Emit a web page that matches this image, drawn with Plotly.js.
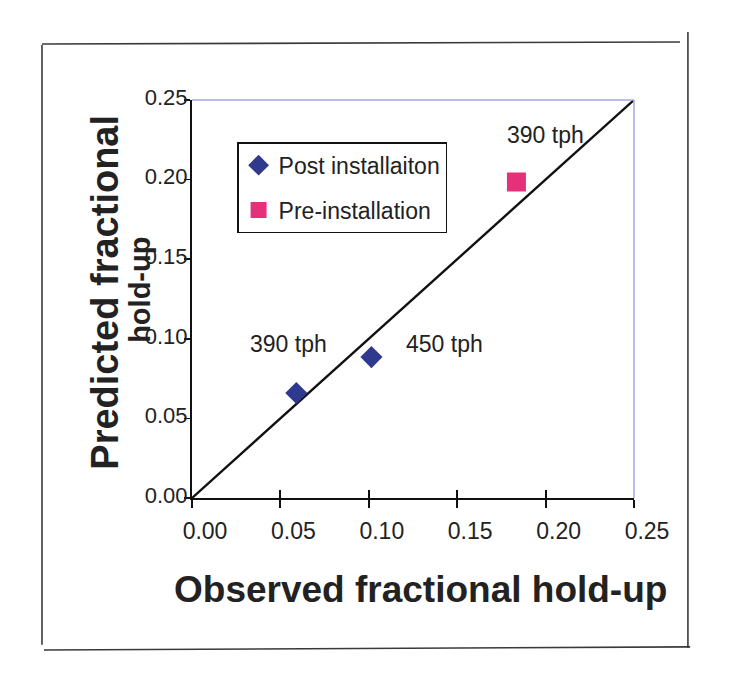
<!DOCTYPE html>
<html>
<head>
<meta charset="utf-8">
<script src="https://cdn.plot.ly/plotly-3.0.1.min.js"></script>
<style>html,body{margin:0;padding:0;background:#fff;}#chart{width:735px;height:691px;}</style>
</head>
<body>
<div id="chart"></div>
<script>
// Data
const postX = [0.059, 0.1015];
const postY = [0.066, 0.0885];
const preX = [0.1835];
const preY = [0.1985];
const lineX = [0, 0.25];
const lineY = [0, 0.25];
const tickVals = [0, 0.05, 0.10, 0.15, 0.20, 0.25];
const tickText = ["0.00", "0.05", "0.10", "0.15", "0.20", "0.25"];
const labelText = ["390 tph", "390 tph", "450 tph"];
const labelX = [0.2, 0.0547, 0.143];
const labelY = [0.228, 0.0965, 0.0965];

const FONT = "Liberation Sans, Arial, sans-serif";
const traces = [
  {x: lineX, y: lineY, mode: "lines", line: {color: "#111", width: 2.4}, showlegend: false, hoverinfo: "skip"},
  {x: postX, y: postY, mode: "markers", name: "Post installaiton", legendgroup: "a",
   marker: {symbol: "diamond", size: 17, color: "#2f3a8f"}},
  {x: preX, y: preY, mode: "markers", name: "Pre-installation", legendgroup: "b",
   marker: {symbol: "square", size: 19, color: "#e5307a"}},
  {x: [0], y: [0], xaxis: "x2", mode: "markers", marker: {opacity: 0}, showlegend: false, hoverinfo: "skip"}
];

const annotations = labelText.map((t, i) => ({
  x: labelX[i], y: labelY[i], xref: "x", yref: "y", text: t, showarrow: false,
  xanchor: "center", yanchor: "middle",
  font: {family: FONT, size: 23, color: "#222"}
}));
annotations.push({
  xref: "paper", yref: "paper", x: 0.518, y: -0.229, text: "Observed fractional hold-up",
  xanchor: "center", yanchor: "middle",
  showarrow: false, font: {family: FONT, size: 37, color: "#222", weight: "bold"}
});
annotations.push({
  xref: "paper", yref: "paper", x: -0.1975, y: 0.5176, text: "Predicted fractional",
  xanchor: "center", yanchor: "middle",
  textangle: -90, showarrow: false, font: {family: FONT, size: 38, color: "#222", weight: "bold"}
});
annotations.push({
  xref: "paper", yref: "paper", x: -0.118, y: 0.5226, text: "hold-up",
  xanchor: "center", yanchor: "middle",
  textangle: -90, showarrow: false, font: {family: FONT, size: 29, color: "#222", weight: "bold"}
});

const frame = "#3a3a3a";
const shapes = [
  {type: "line", xref: "paper", yref: "paper", x0: 0, y0: 1, x1: 1, y1: 1, line: {color: "#a6a6e6", width: 1.5}},
  {type: "line", xref: "paper", yref: "paper", x0: 1, y0: 1, x1: 1, y1: 0, line: {color: "#a6a6e6", width: 1.5}},
  {type: "line", xref: "paper", yref: "paper", x0: -0.3394, y0: 1.138, x1: -0.3394, y1: -0.369, line: {color: frame, width: 1.6}},
  {type: "line", xref: "paper", yref: "paper", x0: -0.3394, y0: 1.1407, x1: 1.104, y1: 1.1457, line: {color: frame, width: 1.6}},
  {type: "line", xref: "paper", yref: "paper", x0: 1.122, y0: 1.171, x1: 1.122, y1: -0.377, line: {color: frame, width: 1.6}},
  {type: "line", xref: "paper", yref: "paper", x0: -0.335, y0: -0.382, x1: 1.127, y1: -0.374, line: {color: frame, width: 1.6}}
];

const layout = {
  width: 735, height: 691,
  margin: {l: 192, r: 101, t: 100, b: 193},
  paper_bgcolor: "#fff", plot_bgcolor: "rgba(0,0,0,0)",
  showlegend: true,
  legend: {x: 0.102, y: 0.894, xanchor: "left", yanchor: "top", bordercolor: "#111", borderwidth: 1.5,
    bgcolor: "rgba(255,255,255,0)", font: {family: FONT, size: 23, color: "#222"},
    traceorder: "grouped", tracegroupgap: 12, itemwidth: 30, entrywidth: 158, entrywidthmode: "pixels"},
  xaxis: {range: [0, 0.25], tickvals: tickVals, ticktext: tickText, showgrid: false, zeroline: false,
    showline: true, linecolor: "#111", linewidth: 2, ticks: "outside", ticklen: 8, tickwidth: 2, tickcolor: "#111",
    tickfont: {family: FONT, size: 23, color: "#222"}, ticklabelshift: 13, ticklabelstandoff: 3, fixedrange: true},
  xaxis2: {range: [0, 0.25], overlaying: "x", tickvals: tickVals, showticklabels: false, showgrid: false,
    zeroline: false, ticks: "inside", ticklen: 8, tickwidth: 2, tickcolor: "#111", side: "bottom", anchor: "y"},
  yaxis: {range: [0, 0.25], tickvals: tickVals, ticktext: tickText, showgrid: false, zeroline: false,
    showline: true, linecolor: "#111", linewidth: 2, ticks: "outside", ticklen: 6, tickwidth: 1.5, tickcolor: "#111",
    tickfont: {family: FONT, size: 22, color: "#222"}, ticklabelstandoff: -8, ticklabelshift: -3, fixedrange: true},
  annotations: annotations,
  shapes: shapes
};

Plotly.newPlot("chart", traces, layout, {displayModeBar: false, staticPlot: true});
</script>
</body>
</html>
